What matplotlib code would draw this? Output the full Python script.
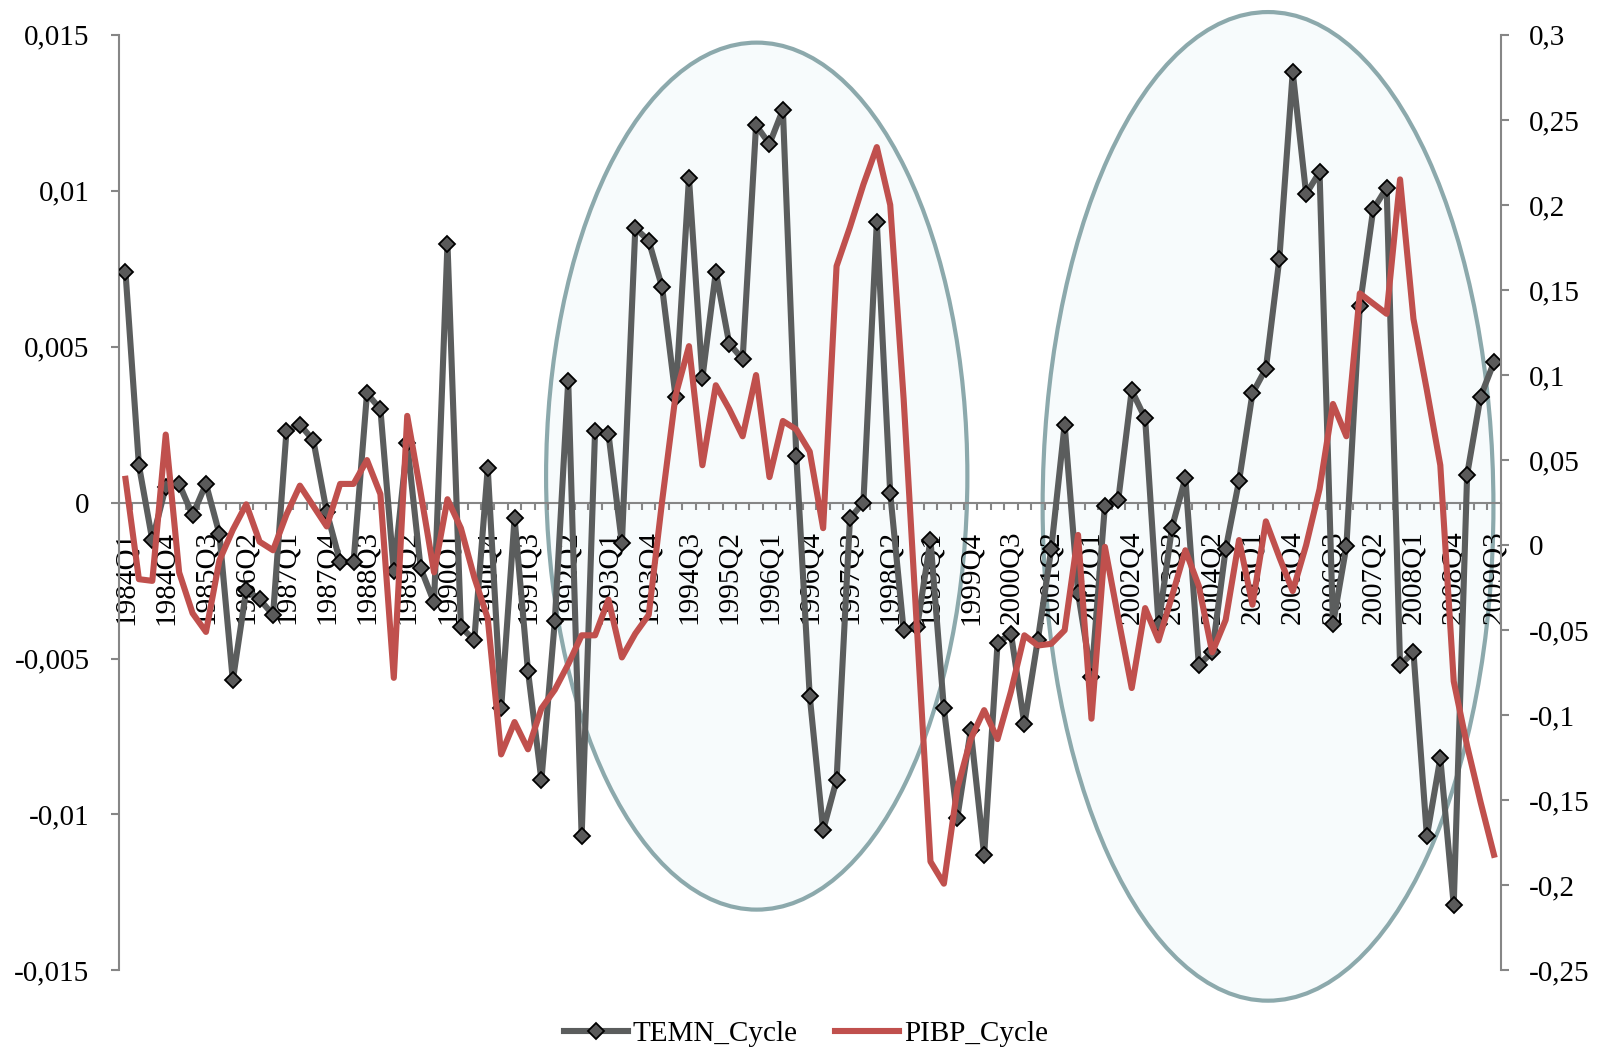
import matplotlib.pyplot as plt
from matplotlib.patches import Ellipse
import numpy as np

### Fonts ###
plt.rcParams['font.family'] = ['Liberation Serif', 'DejaVu Serif']

### Data ###
# quarterly categories 1984Q1 .. 2009Q3
quarters = [f"{y}Q{q}" for y in range(1984, 2010) for q in range(1, 5)][:103]

# TEMN cycle (left axis)
temn_cycle = [
    0.0074, 0.0012, -0.0012, 0.0005, 0.0006, -0.0004, 0.0006, -0.0010,
    -0.0057, -0.0028, -0.0031, -0.0036, 0.0023, 0.0025, 0.0020, -0.0003,
    -0.0019, -0.0019, 0.0035, 0.0030, -0.0022, 0.0019, -0.0021, -0.0032,
    0.0083, -0.0040, -0.0044, 0.0011, -0.0066, -0.0005, -0.0054, -0.0089,
    -0.0038, 0.0039, -0.0107, 0.0023, 0.0022, -0.0013, 0.0088, 0.0084,
    0.0069, 0.0034, 0.0104, 0.0040, 0.0074, 0.0051, 0.0046, 0.0121,
    0.0115, 0.0126, 0.0015, -0.0062, -0.0105, -0.0089, -0.0005, 0.0000,
    0.0090, 0.0003, -0.0041, -0.0040, -0.0012, -0.0066, -0.0101, -0.0073,
    -0.0113, -0.0045, -0.0042, -0.0071, -0.0044, -0.0015, 0.0025, -0.0029,
    -0.0056, -0.0001, 0.0001, 0.0036, 0.0027, -0.0039, -0.0008, 0.0008,
    -0.0052, -0.0048, -0.0015, 0.0007, 0.0035, 0.0043, 0.0078, 0.0138,
    0.0099, 0.0106, -0.0039, -0.0014, 0.0063, 0.0094, 0.0101, -0.0052,
    -0.0048, -0.0107, -0.0082, -0.0129, 0.0009, 0.0034, 0.0045,
]

# PIBP cycle (right axis)
pibp_cycle = [
    0.039, -0.020, -0.021, 0.065, -0.016, -0.040, -0.051, -0.009,
    0.009, 0.024, 0.002, -0.003, 0.018, 0.035, 0.023, 0.011,
    0.036, 0.036, 0.050, 0.030, -0.078, 0.076, 0.031, -0.016,
    0.027, 0.010, -0.019, -0.043, -0.123, -0.104, -0.120, -0.096,
    -0.085, -0.070, -0.053, -0.053, -0.032, -0.066, -0.052, -0.041,
    0.026, 0.088, 0.117, 0.047, 0.094, 0.080, 0.064, 0.100,
    0.040, 0.073, 0.068, 0.055, 0.010, 0.164, 0.187, 0.212,
    0.234, 0.200, 0.086, -0.050, -0.186, -0.199, -0.143, -0.114,
    -0.097, -0.114, -0.086, -0.053, -0.059, -0.058, -0.050, 0.006,
    -0.102, -0.001, -0.043, -0.084, -0.037, -0.056, -0.030, -0.003,
    -0.024, -0.063, -0.044, 0.003, -0.035, 0.014, -0.007, -0.027,
    0.000, 0.033, 0.083, 0.064, 0.148, 0.142, 0.136, 0.215,
    0.133, 0.091, 0.047, -0.080, -0.118, -0.151, -0.182,
]

left_ticks = [0.015, 0.01, 0.005, 0, -0.005, -0.01, -0.015]
left_labels = ['0,015', '0,01', '0,005', '0', '-0,005', '-0,01', '-0,015']
right_ticks = [0.3, 0.25, 0.2, 0.15, 0.1, 0.05, 0, -0.05, -0.1, -0.15, -0.2, -0.25]
right_labels = ['0,3', '0,25', '0,2', '0,15', '0,1', '0,05', '0',
                '-0,05', '-0,1', '-0,15', '-0,2', '-0,25']

x = np.arange(len(quarters))

### Plotting ###
axis_grey = '#868686'
fs = 21

fig = plt.figure(figsize=(16.05, 10.49), dpi=100)
ax1 = fig.add_axes([0.074, 0.0749, 0.861, 0.8919])
ax2 = ax1.twinx()

# highlighted periods
for cx, cy, w, h in [(47.05, 0.00085, 31.4, 0.0278), (85.16, -0.00012, 33.6, 0.0317)]:
    ax1.add_patch(Ellipse((cx, cy), w, h, facecolor='#F7FBFC', edgecolor='#8CA9AC',
                          lw=3.0, zorder=0.5, clip_on=False))

l1, = ax1.plot(x, temn_cycle, color='#5b5d5d', lw=4.4, marker='D', ms=8.5,
               mfc='#5a5a5a', mec='black', mew=1.3, zorder=3, label='TEMN_Cycle')
l2, = ax2.plot(x, pibp_cycle, color='#C0504D', lw=4.4, zorder=3, label='PIBP_Cycle')

ax1.set_xlim(-0.5, len(quarters) - 0.5)
ax1.set_ylim(-0.015, 0.015)
ax2.set_ylim(-0.25, 0.3)

# spines
for s in ['top', 'right']:
    ax1.spines[s].set_visible(False)
for s in ['top', 'bottom', 'left']:
    ax2.spines[s].set_visible(False)
ax1.spines['bottom'].set_position(('data', 0))
for sp in [ax1.spines['left'], ax1.spines['bottom'], ax2.spines['right']]:
    sp.set_color(axis_grey)
    sp.set_linewidth(1.5)

# x axis
ax1.set_xticks(x[::3])
ax1.set_xticklabels(quarters[::3], rotation=90, fontsize=fs)
ax1.set_xticks(np.arange(-0.5, len(quarters), 1), minor=True)
ax1.tick_params(axis='x', which='major', length=0, pad=20)
ax1.tick_params(axis='x', which='minor', length=5, width=1.5, color=axis_grey, direction='out')

# y axes
ax1.set_yticks(left_ticks)
ax1.set_yticklabels(left_labels, fontsize=fs)
ax1.tick_params(axis='y', length=6, width=1.5, color=axis_grey, pad=15)
ax2.set_yticks(right_ticks)
ax2.set_yticklabels(right_labels, fontsize=fs)
ax2.tick_params(axis='y', length=6, width=1.5, color=axis_grey, pad=14)

ax1.patch.set_visible(False)
ax2.patch.set_visible(False)

fig.legend(handles=[l1, l2], loc='center', bbox_to_anchor=(0.502, 0.0145), ncol=2,
           frameon=False, fontsize=fs, handlelength=2.2, handletextpad=0.15,
           columnspacing=1.3, borderpad=0)

plt.savefig('out.png', dpi=100)
